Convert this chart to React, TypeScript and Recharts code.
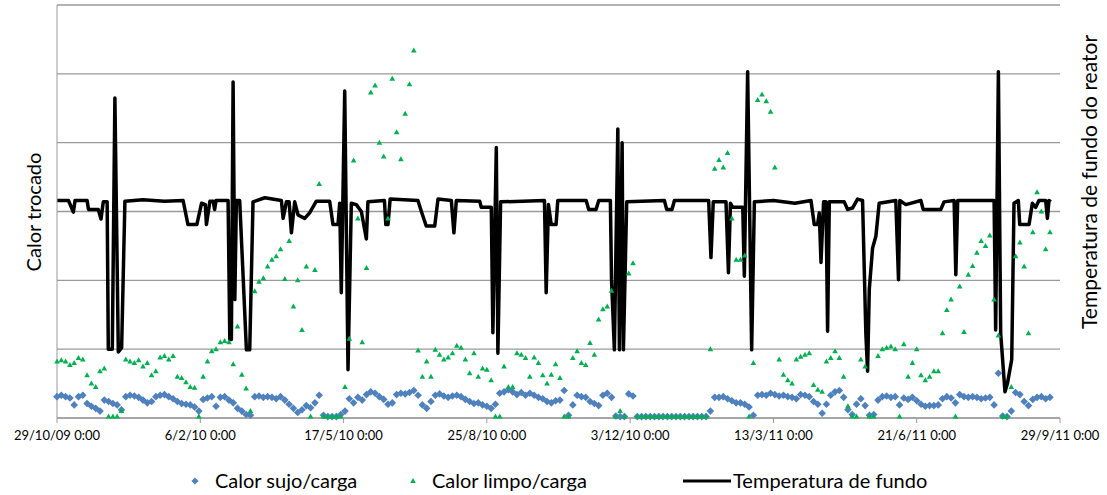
import React from 'react';
import { ComposedChart, Scatter, Line, XAxis, YAxis, CartesianGrid } from 'recharts';

const FONT = 'Lato, "Open Sans", sans-serif';

const tickDays = [0, 100, 200, 300, 400, 500, 600, 700];
const tickLabels = ['29/10/09 0:00', '6/2/10 0:00', '17/5/10 0:00', '25/8/10 0:00', '3/12/10 0:00', '13/3/11 0:00', '21/6/11 0:00', '29/9/11 0:00'];
const gridValues = [0, 1, 2, 3, 4, 5, 6];

// one value every 3 days, starting at 29/10/09
const STEP = 3;

const calorSujo = [
  0.31, 0.33, 0.31, 0.29, 0.19, 0.31, 0.33, 0.21, 0.17, 0.14,
  0.10, 0.26, 0.24, 0.21, 0.19, 0.12, 0.31, 0.33, 0.32, 0.30,
  0.26, 0.22, 0.24, 0.31, 0.33, 0.34, 0.31, 0.28, 0.24, 0.21,
  0.20, 0.19, 0.16, 0.10, 0.27, 0.29, 0.31, 0.17, 0.30, 0.31,
  0.26, 0.22, 0.14, 0.10, 0.05, 0.04, 0.31, 0.32, 0.30, 0.31,
  0.30, 0.28, 0.31, 0.26, 0.20, 0.14, 0.08, 0.12, 0.18, 0.15,
  0.22, 0.33, 0.04, 0.02, 0.02, 0.02, 0.05, 0.10, 0.28, 0.22,
  0.30, 0.26, 0.34, 0.38, 0.36, 0.31, 0.27, 0.20,
  0.22, 0.34, 0.36, 0.35, 0.37, 0.40, 0.33, 0.19, 0.14, 0.24,
  0.33, 0.35, 0.32, 0.30, 0.32, 0.33, 0.31, 0.27, 0.24, 0.21,
  0.22, 0.19, 0.17, 0.14, 0.20, 0.36, 0.38, 0.41, 0.38, 0.34,
  0.37, 0.33, 0.36, 0.33, 0.30, 0.28, 0.24, 0.22,
  0.25, 0.26, 0.40, 0.04, 0.19, 0.33, 0.31, 0.30, 0.24, 0.21,
  0.18, 0.33, 0.36, 0.30, 0.03, 0.02, 0.02, 0.35, 0.32, 0.02,
  0.02, 0.02, 0.02, 0.02, 0.02, 0.02, 0.02, 0.02, 0.02, 0.02,
  0.02, 0.02, 0.02, 0.02, 0.02, 0.02, 0.10, 0.30,
  0.30, 0.31, 0.28, 0.25, 0.22, 0.22, 0.20, 0.16, 0.04, 0.33,
  0.34, 0.33, 0.36, 0.34, 0.32, 0.33, 0.31, 0.30, 0.28, 0.34,
  0.33, 0.31, 0.24, 0.20, 0.07, 0.20, 0.33, 0.38, 0.40, 0.30,
  0.12, 0.05, 0.20, 0.28, 0.18, 0.04, 0.05, 0.26,
  0.31, 0.32, 0.30, 0.31, 0.19, 0.29, 0.27, 0.30, 0.25, 0.20,
  0.17, 0.18, 0.18, 0.19, 0.28, 0.31, 0.29, 0.22, 0.34, 0.31,
  0.30, 0.31, 0.30, 0.28, 0.29, 0.30, 0.19, 0.65, 0.03, 0.02,
  0.10, 0.37, 0.34, 0.24, 0.18, 0.27, 0.30, 0.31, 0.28, 0.30,
];

const calorLimpo = [
  0.82, 0.84, 0.82, 0.77, 0.80, 0.87, 0.85, 0.62, 0.50, 0.45,
  0.68, 0.72, 0.02, 0.02, 0.02, 0.10, 0.85, 0.82, 0.80, 0.84,
  0.75, 0.80, 0.62, 0.68, 0.88, 0.90, 0.85, 0.90, 0.60, 0.58,
  0.52, 0.45, 0.44, 0.02, 0.60, 0.82, 0.97, 1.00, 1.10, 1.12,
  1.10, 0.78, 1.33, 0.63, 0.43, 0.10, 1.84, 1.98, 2.03, 2.20,
  2.30, 2.35, 2.45, 2.02, 2.57, 1.62, 2.00, 1.28, 2.20, 0.02,
  2.15, 3.40, 0.02, 0.02, 0.02, 0.02, 0.02, 0.45, 1.15, 3.74,
  2.90, 1.10, 2.18, 4.73, 4.83, 4.00, 3.80, 2.90,
  4.93, 4.15, 3.76, 4.42, 4.85, 5.34, 0.98, 0.60, 0.82, 0.60,
  0.99, 0.92, 0.85, 0.88, 0.94, 1.05, 1.02, 0.85, 0.65, 0.94,
  0.60, 0.72, 0.70, 0.55, 0.02, 0.02, 0.75, 0.45, 0.45, 0.94,
  0.92, 0.87, 0.60, 0.88, 0.80, 0.62, 0.50, 0.63,
  0.78, 0.58, 0.02, 0.02, 0.87, 0.97, 0.80, 0.77, 1.09, 0.92,
  1.43, 1.58, 1.62, 1.85, 0.02, 0.10, 0.02, 2.10, 2.25, 0.02,
  0.02, 0.02, 0.02, 0.02, 0.02, 0.02, 0.02, 0.02, 0.02, 0.02,
  0.02, 0.02, 0.02, 0.02, 0.02, 0.02, 1.00, 3.62,
  3.75, 3.64, 3.85, 2.90, 2.30, 2.30, 2.36, 0.02, 0.80, 4.62,
  4.70, 4.60, 4.45, 3.64, 0.85, 0.63, 0.55, 0.50, 0.85, 0.89,
  0.92, 0.94, 0.48, 0.41, 0.38, 0.82, 0.87, 0.97, 0.87, 0.60,
  0.17, 0.02, 0.02, 0.85, 0.75, 0.02, 0.02, 0.90,
  1.00, 1.02, 1.04, 1.00, 0.02, 1.07, 0.60, 0.80, 1.00, 0.62,
  0.55, 0.60, 0.68, 0.68, 1.23, 1.57, 1.72, 0.02, 1.91, 1.25,
  2.08, 2.21, 2.40, 2.57, 2.50, 2.65, 1.72, 1.20, 0.02, 0.02,
  0.45, 2.35, 2.55, 2.20, 1.23, 2.70, 3.28, 3.00, 2.45, 2.70,
];

const tempDays = [
  0, 8, 11.4, 12.6, 21, 22, 28.8, 30.7, 32.3, 35, 35.8, 38.6, 40.4, 42.8, 45.1, 47.4, 60, 75, 88, 91.4,
  97.6, 100.9, 103.5, 104.3, 106.7, 109, 110, 111, 119.4, 120.6, 121.7, 122.9, 124.1, 125.2, 127.5, 132.2, 134.5, 136.8, 145, 156.6,
  157.8, 160.1, 162, 163.6, 165.9, 168.2, 172.9, 176.3, 181, 190.3, 192.6, 196.1, 197.3, 198.4, 200.8, 203.1, 205.4, 208.9, 212.4, 215.9,
  217, 228.5, 229.5, 231, 232.5, 251.9, 254.3, 257.7, 263.6, 265.9, 275.2, 277, 278.7, 295, 296.1, 303.1, 304.2, 306.6, 307.7, 309.6,
  340.2, 341.4, 343, 344.9, 348.3, 349.5, 369.3, 371.1, 376.2, 378.1, 386.2, 387, 389, 391.4, 392.5, 394.4, 395.3, 397.6, 423.9, 425.5,
  429.2, 430.9, 454.8, 456.4, 458, 466.9, 468.6, 470, 471.6, 478.6, 479.7, 482, 484.8, 486.7, 500, 515, 526.2, 528.5, 530.8, 532,
  533.2, 535, 536.7, 537.8, 539, 549.4, 551.8, 555.2, 558.7, 562.2, 564.5, 565.7, 566.9, 569.2, 571.5, 573.8, 585.4, 587.3, 588.2, 592.4,
  602.9, 604.5, 616.8, 619.1, 626.1, 627.3, 628.6, 654, 655.1, 657, 658.6, 661.6, 663.3, 666.3, 667.9, 670.9, 671.9, 678.4, 680.7, 683,
  685.3, 690, 691.2, 692.3, 693.5,
];

const tempValues = [
  3.16, 3.16, 2.99, 3.16, 3.16, 3.03, 3.03, 2.89, 3.14, 3.14, 1.0, 1.0, 4.65, 0.96, 1.02, 3.15, 3.17, 3.15, 3.16, 2.81,
  2.81, 3.12, 3.1, 2.81, 3.15, 3.15, 3.03, 3.16, 3.16, 1.14, 1.14, 4.88, 1.72, 3.16, 3.16, 0.99, 0.99, 3.14, 3.2, 3.16,
  2.9, 3.14, 3.14, 2.69, 3.14, 2.95, 2.9, 2.98, 3.15, 3.15, 2.81, 2.81, 3.12, 1.82, 4.75, 0.7, 3.12, 3.1, 3.0, 2.6,
  3.14, 3.16, 2.81, 2.81, 3.18, 3.16, 3.0, 2.79, 2.79, 3.18, 3.16, 2.69, 3.16, 3.15, 3.06, 3.06, 1.24, 3.93, 0.94, 3.14,
  3.16, 1.82, 3.1, 2.81, 2.81, 3.16, 3.16, 3.03, 3.03, 3.16, 3.16, 2.01, 0.99, 4.2, 0.99, 4.0, 0.99, 3.14, 3.16, 3.03,
  3.03, 3.16, 3.16, 2.33, 3.14, 3.14, 2.11, 3.12, 3.06, 3.06, 2.06, 5.03, 0.99, 3.14, 3.16, 3.12, 3.16, 2.81, 2.81, 2.98,
  2.26, 3.14, 3.14, 1.26, 3.14, 3.14, 3.03, 3.05, 3.18, 3.16, 1.23, 0.68, 1.87, 2.47, 2.64, 3.12, 3.16, 2.01, 3.16, 3.1,
  3.16, 3.03, 3.03, 3.14, 3.16, 2.08, 3.16, 3.16, 1.28, 5.03, 1.23, 0.38, 0.5, 0.85, 3.12, 3.16, 2.81, 2.81, 3.12, 3.06,
  3.16, 3.16, 2.9, 3.16, 3.14,
];

const sujoData = calorSujo.map((v, i) => ({ day: i * STEP, v }));
const limpoData = calorLimpo.map((v, i) => ({ day: i * STEP, v }));
const tempData = tempDays.map((d, i) => ({ day: d, v: tempValues[i] }));

const Diamond = (props: any) => {
  const { cx, cy } = props;
  return <polygon points={`${cx},${cy - 3.8} ${cx + 3.8},${cy} ${cx},${cy + 3.8} ${cx - 3.8},${cy}`} fill="#4f81bd" />;
};

const Triangle = (props: any) => {
  const { cx, cy } = props;
  return <polygon points={`${cx},${cy - 3} ${cx + 2.8},${cy + 2} ${cx - 2.8},${cy + 2}`} fill="#00b050" />;
};

const gridLines = (props: any) => {
  const yAxis = props && props.yAxis;
  if (yAxis && typeof yAxis.scale === 'function') {
    return gridValues.map((v) => yAxis.scale(v));
  }
  const off = props.offset;
  return gridValues.map((v) => off.top + off.height - (v / 6) * off.height);
};

export default function App() {
  return (
    <div style={{ position: 'absolute', left: 0, top: 0, width: 1107, height: 495, background: '#fff', fontFamily: FONT }}>
      <ComposedChart width={1107} height={495} margin={{ top: 5, right: 0, bottom: 0, left: 0 }}>
        <CartesianGrid vertical={false} stroke="#9a9a9a" strokeWidth={1.3} horizontalCoordinatesGenerator={gridLines} />
        <XAxis
          type="number"
          dataKey="day"
          domain={[0, 700]}
          ticks={tickDays}
          tickFormatter={(d: number) => tickLabels[tickDays.indexOf(d)]}
          height={77}
          tickSize={5}
          tickMargin={8}
          stroke="#9a9a9a"
          tick={{ fill: '#000', fontSize: 13, fontFamily: FONT }}
          interval={0}
        />
        <YAxis dataKey="v" domain={[0, 6]} ticks={gridValues} tick={false} tickLine={false} width={57} stroke="#9a9a9a" />
        <YAxis yAxisId="r" dataKey="v" orientation="right" domain={[0, 6]} tick={false} tickLine={false} axisLine={false} width={47} />
        <Scatter name="Calor sujo/carga" data={sujoData} dataKey="v" shape={Diamond} isAnimationActive={false} />
        <Scatter name="Calor limpo/carga" data={limpoData} dataKey="v" shape={Triangle} isAnimationActive={false} />
        <Line yAxisId="r" name="Temperatura de fundo" data={tempData} dataKey="v" type="linear" stroke="#000" strokeWidth={3.5} strokeLinejoin="round" dot={false} isAnimationActive={false} />
      </ComposedChart>

      <div style={{ position: 'absolute', left: 33 - 120, top: 212 - 13, width: 240, height: 26, lineHeight: '26px', textAlign: 'center', fontSize: 20, transform: 'rotate(-90deg)' }}>
        Calor trocado
      </div>
      <div style={{ position: 'absolute', left: 1089 - 190, top: 182 - 13, width: 380, height: 26, lineHeight: '26px', textAlign: 'center', fontSize: 21, transform: 'rotate(-90deg)' }}>
        Temperatura de fundo do reator
      </div>

      <svg style={{ position: 'absolute', left: 0, top: 466 }} width={1107} height={30}>
        <polygon points="195,11.4 198.6,15 195,18.6 191.4,15" fill="#4f81bd" />
        <polygon points="413,12 415.8,17 410.2,17" fill="#00b050" />
        <line x1={683} y1={15} x2={731} y2={15} stroke="#000" strokeWidth={3} />
        <text x={215} y={22} fontSize={20} fontFamily={FONT} fill="#000">Calor sujo/carga</text>
        <text x={432} y={22} fontSize={20} fontFamily={FONT} fill="#000">Calor limpo/carga</text>
        <text x={733} y={22} fontSize={20} fontFamily={FONT} fill="#000">Temperatura de fundo</text>
      </svg>
    </div>
  );
}
